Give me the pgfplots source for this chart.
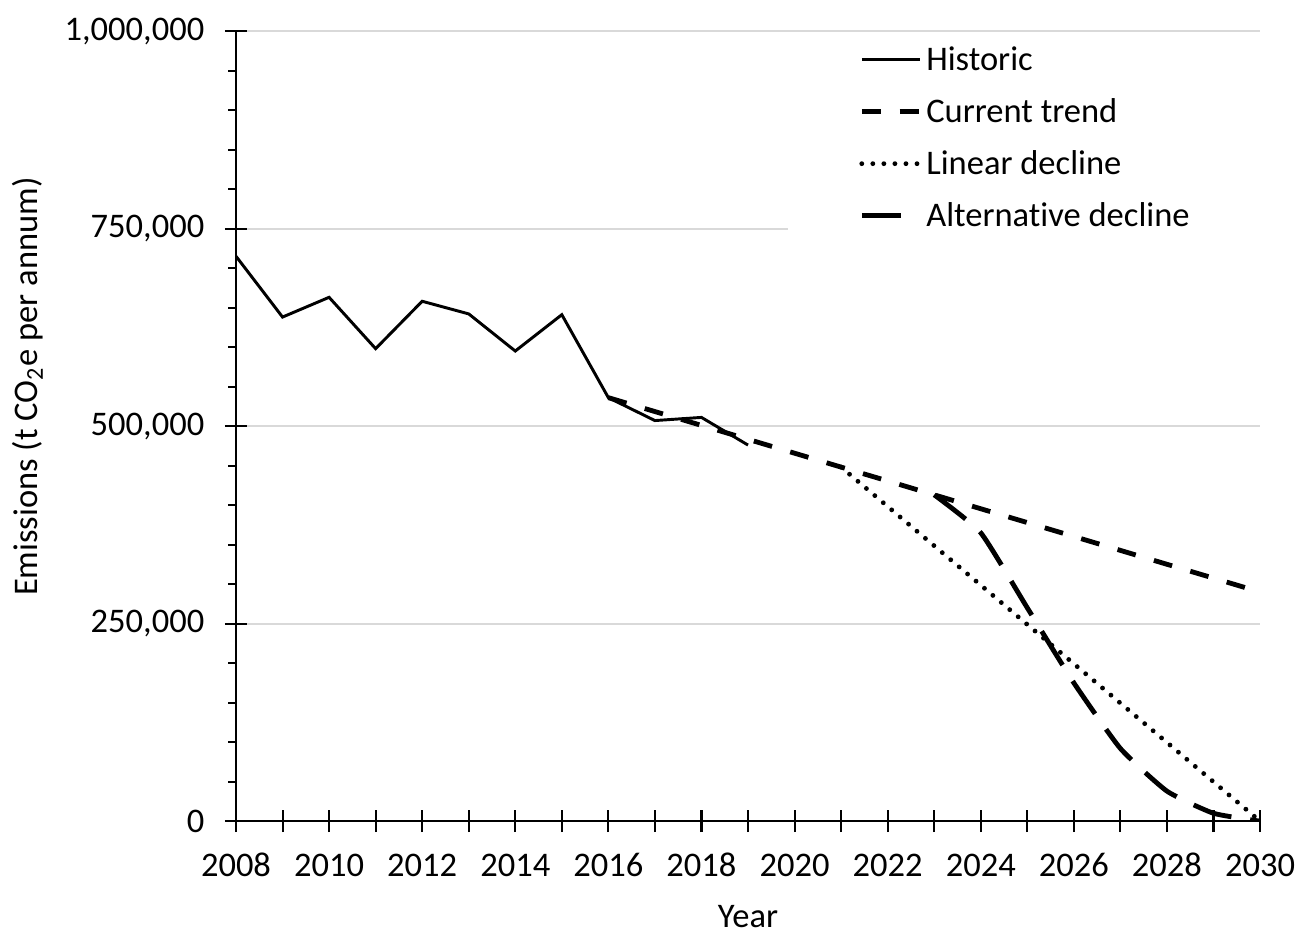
\documentclass[border=0pt]{standalone}
\usepackage{fontspec}
\setmainfont{Carlito}[Ligatures=NoCommon]
\usepackage{pgfplots}
\pgfplotsset{compat=1.18}
\definecolor{gridgray}{HTML}{D9D9D9}
\begin{document}
\begin{tikzpicture}
\begin{axis}[
  name=ax,
  scale only axis,
  width=296.8pt, height=229pt,
  xmin=2008, xmax=2030,
  ymin=0, ymax=1000000,
  axis x line=bottom, axis y line=left,
  axis line style={-, line width=0.75pt, black},
  xtick={2008,2010,2012,2014,2016,2018,2020,2022,2024,2026,2028,2030},
  xticklabels={2008,2010,2012,2014,2016,2018,2020,2022,2024,2026,2028,2030},
  extra x ticks={2009,2011,2013,2015,2017,2019,2021,2023,2025,2027,2029},
  extra x tick labels={},
  ytick={0,250000,500000,750000,1000000},
  yticklabels={0,{250,000},{500,000},{750,000},{1,000,000}},
  minor y tick num=4,
  tick align=center,
  major tick length=6.4pt,
  minor tick length=2.3pt,
  minor y tick style={xshift=-1.15pt},
  every tick/.style={black, line width=0.6pt},
  ymajorgrids,
  major grid style={gridgray, line width=0.6pt},
  scaled y ticks=false,
  xticklabel style={anchor=north, inner sep=0pt, text height=6.4pt, text depth=0pt, yshift=-6.2pt},
  yticklabel style={anchor=east, inner sep=0pt, xshift=-5.8pt},
  tick label style={font=\normalsize},
  xlabel={Year},
  ylabel={Emissions (t CO\textsubscript{2}e per annum)},
  xlabel style={at={(axis description cs:0.5,-0.1345)}, anchor=base, font=\normalsize},
  ylabel style={at={(axis description cs:-0.2032,0.55)}, anchor=center, font=\normalsize},
  legend style={at={(rel axis cs:0.538,0.99)}, anchor=north west, fill=white, draw=none,
    inner xsep=20.8pt, inner ysep=1pt, row sep=5.6pt, column sep=0pt, font=\normalsize,
    nodes={inner xsep=1.2pt, inner ysep=0pt, text height=8pt, text depth=1.5pt}},
  legend cell align=left,
  legend image code/.code={\draw[#1] (0pt,0pt) -- (16.8pt,0pt);},
]
\addplot[black, line width=0.85pt, line join=miter] coordinates {
 (2008,715000) (2009,638000) (2010,663000) (2011,598000) (2012,658000)
 (2013,642000) (2014,595000) (2015,641000) (2016,536000) (2017,507000)
 (2018,511000) (2019,476000)
};
\addlegendentry{Historic}
\addplot[black, line width=1.4pt, dash pattern=on 5.5pt off 5.5pt] coordinates {
 (2016,536000) (2017,518400) (2018,500900) (2019,483300) (2020,465700)
 (2021,448100) (2022,430600) (2023,413000) (2024,395400) (2025,377900)
 (2026,360300) (2027,342700) (2028,325100) (2029,307600) (2030,290000)
};
\addlegendentry{Current trend}
\addplot[black, line width=1.4pt, line cap=round, dash pattern=on 0pt off 3.2pt] coordinates {
 (2021,448100) (2022,398300) (2023,348500) (2024,298700) (2025,248900)
 (2026,199200) (2027,149400) (2028,99600) (2029,49800) (2030,0)
};
\addlegendentry{Linear decline}
\addplot[black, line width=1.4pt, dash pattern=on 11.5pt off 5.5pt, smooth, tension=0.3] coordinates {
 (2023,413000) (2024,365000) (2025,270000) (2026,175000) (2027,92000)
 (2028,38000) (2029,10000) (2030,0)
};
\addlegendentry{Alternative decline}
\end{axis}
\pgfresetboundingbox
\path ([shift={(-68.4pt,-32.2pt)}]ax.south west) rectangle ([shift={(11.3pt,9pt)}]ax.north east);
\end{tikzpicture}
\end{document}
